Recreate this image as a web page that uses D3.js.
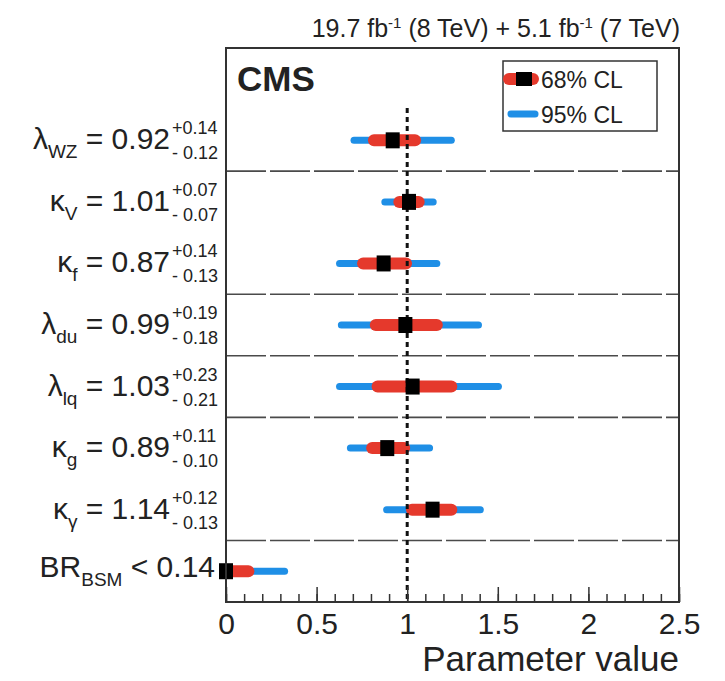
<!DOCTYPE html>
<html>
<head>
<meta charset="utf-8">
<script src="https://cdn.jsdelivr.net/npm/d3@7"></script>
<style>
  body { margin: 0; background: #fff; }
  text { font-family: "Liberation Sans", Arial, sans-serif; fill: #222; }
</style>
</head>
<body>
<div id="chart"></div>
<script>
// parameters, top to bottom
let symbols  = ["λ", "κ", "κ", "λ", "λ", "κ", "κ", "BR"];
let subs     = ["WZ", "V", "f", "du", "lq", "g", "γ", "BSM"];
let central  = [0.92, 1.01, 0.87, 0.99, 1.03, 0.89, 1.14, 0];
let errUp    = [0.14, 0.07, 0.14, 0.19, 0.23, 0.11, 0.12, 0.14];
let errDown  = [0.12, 0.07, 0.13, 0.18, 0.21, 0.10, 0.13, 0];
let lo95     = [0.69, 0.86, 0.61, 0.62, 0.61, 0.67, 0.87, 0];
let hi95     = [1.26, 1.16, 1.18, 1.41, 1.52, 1.14, 1.42, 0.34];
let separators = [0.5, 2.5, 3.5, 4.5, 6.5];
let xTicks = [0, 0.5, 1, 1.5, 2, 2.5];

let red = "#e5392c", blue = "#1f8fe6";

let W = 725, H = 681;
let frame = {left: 226, right: 679, top: 48, bottom: 602};

let x = d3.scaleLinear().domain([0, 2.5]).range([frame.left, frame.right]);
let y = d3.scaleLinear().domain([-1.5, 7.5]).range([frame.top, frame.bottom]);

let svg = d3.select("#chart")
            .append("svg")
            .attr("width", W)
            .attr("height", H);

let rows = central.map(function(c, i) {
  return {i: i, c: c, lo68: c - errDown[i], hi68: c + errUp[i], lo95: lo95[i], hi95: hi95[i]};
});

// separators
svg.selectAll(".sep")
   .data(separators)
   .enter().append("line")
   .attr("x1", frame.left).attr("x2", frame.right)
   .attr("y1", function(d) { return y(d); })
   .attr("y2", function(d) { return y(d); })
   .attr("stroke", "#4a4a4a")
   .attr("stroke-width", 1.6)
   .attr("stroke-dasharray", "40,4");

// 95% bands
svg.selectAll(".b95")
   .data(rows)
   .enter().append("line")
   .attr("x1", function(d) { return x(d.lo95) + 3; })
   .attr("x2", function(d) { return x(d.hi95) - 3; })
   .attr("y1", function(d) { return y(d.i); })
   .attr("y2", function(d) { return y(d.i); })
   .attr("stroke", blue)
   .attr("stroke-width", 7)
   .attr("stroke-linecap", "round");

// 68% bands
svg.selectAll(".b68")
   .data(rows)
   .enter().append("line")
   .attr("x1", function(d) { return x(d.lo68) + 3; })
   .attr("x2", function(d) { return x(d.hi68) - 3; })
   .attr("y1", function(d) { return y(d.i); })
   .attr("y2", function(d) { return y(d.i); })
   .attr("stroke", red)
   .attr("stroke-width", 12)
   .attr("stroke-linecap", "round");

// dashed SM line
svg.append("line")
   .attr("x1", x(1)).attr("x2", x(1))
   .attr("y1", 108).attr("y2", frame.bottom)
   .attr("stroke", "#111")
   .attr("stroke-width", 3)
   .attr("stroke-dasharray", "5,4");

// best fit markers
svg.selectAll(".mk")
   .data(rows)
   .enter().append("rect")
   .attr("x", function(d) { return x(d.c) - 7; })
   .attr("y", function(d) { return y(d.i) - 8; })
   .attr("width", 14)
   .attr("height", 16)
   .attr("fill", "#000");

// frame
svg.append("rect")
   .attr("x", frame.left).attr("y", frame.top)
   .attr("width", frame.right - frame.left)
   .attr("height", frame.bottom - frame.top)
   .attr("fill", "none")
   .attr("stroke", "#333")
   .attr("stroke-width", 2);

// x axis: major and minor ticks pointing inward
let minor = d3.range(0, 2.501, 0.1);
svg.append("g")
   .attr("transform", "translate(0," + frame.bottom + ")")
   .call(d3.axisBottom(x).tickValues(minor).tickSize(-8).tickFormat(""))
   .call(function(g) { g.select(".domain").remove(); g.selectAll("line").attr("stroke", "#333").attr("stroke-width", 1.5); });

svg.append("g")
   .attr("transform", "translate(0," + frame.bottom + ")")
   .call(d3.axisBottom(x).tickValues(xTicks).tickSize(-15).tickPadding(11).tickFormat(d3.format("")))
   .call(function(g) {
     g.select(".domain").remove();
     g.selectAll("line").attr("stroke", "#333").attr("stroke-width", 1.5);
     g.selectAll("text").attr("font-size", 30).attr("fill", "#222")
      .attr("font-family", "Liberation Sans, Arial, sans-serif");
   });

svg.append("text")
   .attr("x", frame.right)
   .attr("y", 671)
   .attr("text-anchor", "end")
   .attr("font-size", 35)
   .text("Parameter value");

// header
let hdr = svg.append("text")
   .attr("x", 680)
   .attr("y", 37)
   .attr("text-anchor", "end")
   .attr("font-size", 25);
hdr.append("tspan").text("19.7 fb");
hdr.append("tspan").attr("font-size", 15).attr("dy", -9).text("-1");
hdr.append("tspan").attr("dy", 9).text(" (8 TeV) +  5.1 fb");
hdr.append("tspan").attr("font-size", 15).attr("dy", -9).text("-1");
hdr.append("tspan").attr("dy", 9).text(" (7 TeV)");

// CMS label
svg.append("text")
   .attr("x", 237)
   .attr("y", 91)
   .attr("font-size", 35)
   .attr("font-weight", "bold")
   .text("CMS");

// legend
let leg = svg.append("g");
leg.append("rect")
   .attr("x", 503).attr("y", 61)
   .attr("width", 154).attr("height", 70)
   .attr("fill", "#fff")
   .attr("stroke", "#333")
   .attr("stroke-width", 1.5);
leg.append("line")
   .attr("x1", 509).attr("x2", 533).attr("y1", 79).attr("y2", 79)
   .attr("stroke", red).attr("stroke-width", 12).attr("stroke-linecap", "round");
leg.append("rect")
   .attr("x", 516).attr("y", 72).attr("width", 16).attr("height", 14).attr("fill", "#000");
leg.append("line")
   .attr("x1", 511).attr("x2", 535).attr("y1", 114).attr("y2", 114)
   .attr("stroke", blue).attr("stroke-width", 7).attr("stroke-linecap", "round");
leg.append("text").attr("x", 541).attr("y", 88).attr("font-size", 23).text("68% CL");
leg.append("text").attr("x", 541).attr("y", 123).attr("font-size", 23).text("95% CL");

// row labels
let fmt = d3.format(".2f");
rows.forEach(function(d) {
  let cy = y(d.i);
  let isBR = d.i === 7;
  let t = svg.append("text")
     .attr("x", isBR ? 215 : 170)
     .attr("y", cy + (isBR ? 6 : 9))
     .attr("text-anchor", "end")
     .attr("font-size", 30);
  t.append("tspan").text(symbols[d.i]);
  t.append("tspan").attr("font-size", 19).attr("dy", 9).text(subs[d.i]);
  if (isBR) {
    t.append("tspan").attr("dy", -9).text(" < " + fmt(d.hi68));
  } else {
    t.append("tspan").attr("dy", -9).text(" = " + fmt(d.c));
    svg.append("text").attr("x", 172).attr("y", cy - 6)
       .attr("font-size", 18).text("+" + fmt(errUp[d.i]));
    svg.append("text").attr("x", 172).attr("y", cy + 19)
       .attr("font-size", 18).text("- " + fmt(errDown[d.i]));
  }
});
</script>
</body>
</html>
